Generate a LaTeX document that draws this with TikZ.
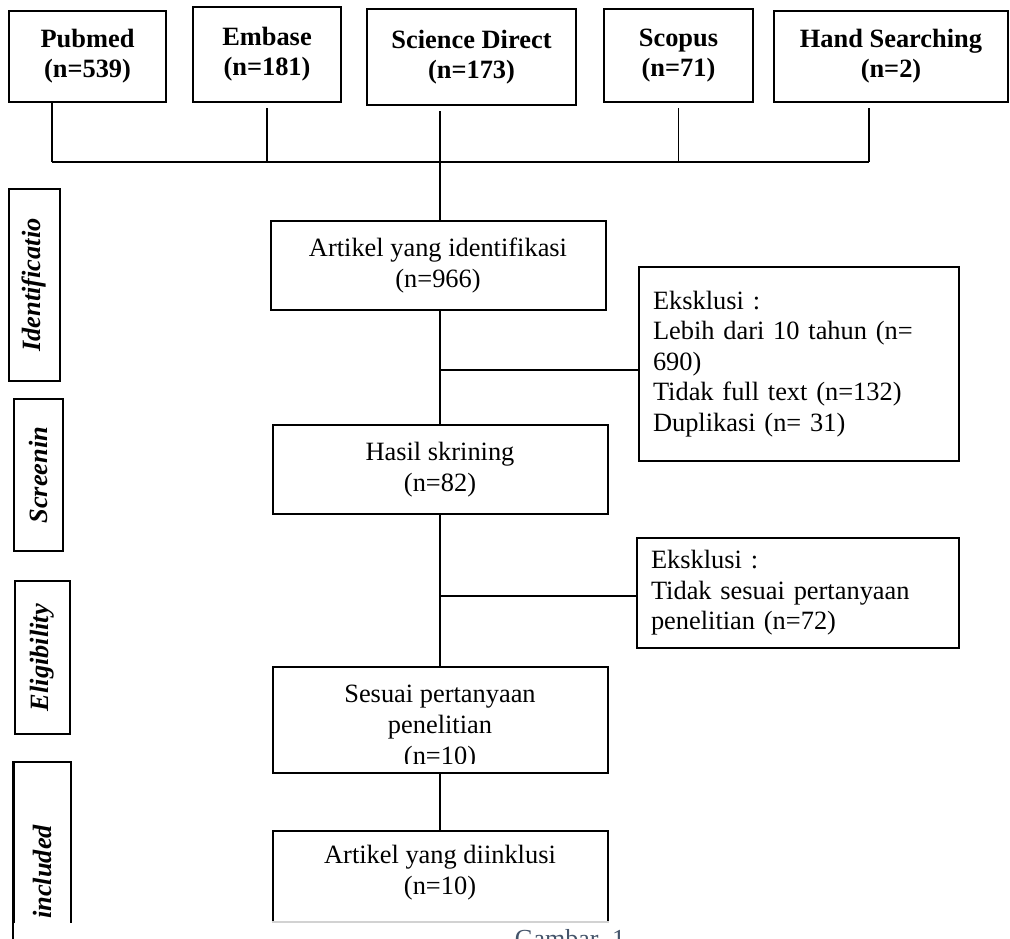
\documentclass[tikz,border=0pt]{standalone}
\usepackage{fontspec}
\setmainfont{Liberation Serif}
\usetikzlibrary{positioning, calc}
\definecolor{captiongray}{HTML}{44546A}
\tikzstyle{source} = [rectangle, draw, line width=1pt, align=center, inner sep=2pt, font=\bfseries\fontsize{13.2}{15}\selectfont]
\tikzstyle{stage} = [rectangle, draw, line width=1pt, rotate=90, inner sep=1pt, font=\bfseries\itshape\fontsize{13.2}{15}\selectfont]
\tikzstyle{flowtext} = [align=center, inner sep=0pt, font=\fontsize{13.2}{15.5}\selectfont]
\tikzstyle{flowbox} = [rectangle, draw, line width=1pt, minimum width=167.5pt, flowtext]
\tikzstyle{exclbox} = [rectangle, draw, line width=1pt, align=left, inner xsep=7pt, font=\fontsize{13.2}{15.2}\selectfont]
\tikzstyle{link} = [line width=0.9pt]
\tikzstyle{gap} = [link, shorten <=2.5pt]
\tikzstyle{caption} = [anchor=base, text=captiongray, font=\fontsize{13}{15}\selectfont]

\begin{document}
\begin{tikzpicture}[x=0.5pt, y=-0.5pt]
  \useasboundingbox (0,0) rectangle (1010,938);
  \clip (0,0) rectangle (1010,938);

  % Sumber data
  \node[source, minimum width=78.5pt, minimum height=45.5pt] (pubmed) at (87.5,56.5) {Pubmed\\(n=539)};
  \node[source, minimum width=74pt, minimum height=47.5pt] (embase) at (267,54.5) {Embase\\(n=181)};
  \node[source, minimum width=104.5pt, minimum height=48pt] (scidir) at (471.5,57) {Science Direct\\(n=173)};
  \node[source, minimum width=74.5pt, minimum height=46.5pt] (scopus) at (678.5,55.5) {Scopus\\(n=71)};
  \node[source, minimum width=117pt, minimum height=45.5pt] (hand) at (891,56.5) {Hand Searching\\(n=2)};

  % Tahapan
  \node[stage, minimum width=96pt, minimum height=25.5pt] (ident) at (34.5,285) {Identificatio};
  \node[stage, minimum width=76pt, minimum height=24.5pt] (screen) at (38.5,475) {Screenin};
  \node[stage, minimum width=76.5pt, minimum height=27.5pt] (elig) at (42.5,657.5) {Eligibility};

  % Alur utama
  \node[flowbox, minimum height=44.5pt] (artikel) at (438,265.5) {Artikel yang identifikasi\\(n=966)};
  \node[flowbox, minimum height=44.5pt] (hasil) at (440,469.5) {Hasil skrining\\(n=82)};
  \node[flowbox, minimum height=53pt] (sesuai) at (440,720) {};
  \begin{scope}
    \clip (sesuai.north west) rectangle ($(sesuai.south east)+(0,-11)$);
    \node[flowtext] (sesuaitxt) at (440,728) {Sesuai pertanyaan\\penelitian\\(n=10)};
  \end{scope}

  % Eksklusi
  \node[exclbox, text width=146pt, minimum height=97pt] (exc1) at (799,364)
    {Eksklusi :\\Lebih dari 10 tahun (n=\\690)\\Tidak full text (n=132)\\Duplikasi (n= 31)};
  \node[exclbox, text width=147pt, minimum height=55pt] (exc2) at (798,593)
    {Eksklusi :\\Tidak sesuai pertanyaan\\penelitian (n=72)};

  % Bagian bawah terpotong
  \coordinate (cut) at (0,922);
  \begin{scope}
    \clip (0,0) rectangle (1010,922);
    \node[stage, minimum width=110pt, minimum height=28.5pt] (incl) at (42.5,872) {included};
    \node[flowbox, minimum height=47pt] (dinkl) at (440,878) {};
    \node[flowtext] (dinkltxt) at (440,873) {Artikel yang diinklusi\\(n=10)};
  \end{scope}
  \draw[line width=1pt] (incl.north west) -- (incl.north east);
  \draw[gray!35, line width=0.8pt] (dinkl.west |- cut) -- (dinkl.east |- cut);
  \node[caption] (cap) at (570,947) {Gambar. 1};

  % Garis gabungan sumber
  \coordinate (bw) at (52,162);
  \coordinate (be) at (869,162);
  \draw[link] (bw) -- (be);
  \draw[link] (pubmed.south -| bw) -- (bw);
  \draw[gap] (embase.south) -- (embase.south |- bw);
  \draw[gap] (scopus.south) -- (scopus.south |- bw);
  \draw[gap] (hand.south -| be) -- (be);
  \draw[gap] (scidir.south -| hasil.north) -- (hasil.north |- artikel.north);

  % Garis alur
  \draw[link] (hasil.north |- artikel.south) -- (hasil.north);
  \draw[link] (hasil.south) -- (sesuai.north);
  \draw[link] (sesuai.south) -- (dinkl.north);

  % Cabang eksklusi
  \coordinate (j1) at (440,370);
  \coordinate (j2) at (440,596);
  \draw[link] (j1) -- (j1 -| exc1.west);
  \draw[link] (j2) -- (j2 -| exc2.west);
\end{tikzpicture}
\end{document}
